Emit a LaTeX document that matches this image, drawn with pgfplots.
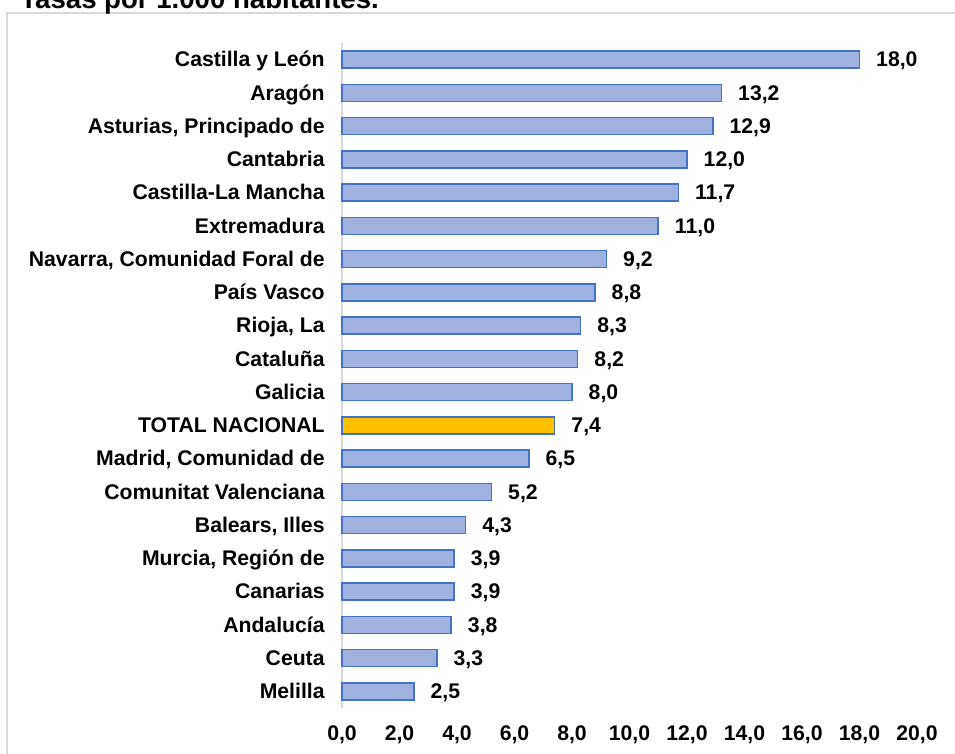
\documentclass[border=0pt]{standalone}
\usepackage{fontspec}
\setmainfont{Liberation Sans}
\usepackage{pgfplots}
\pgfplotsset{compat=1.18}
\definecolor{barblue}{HTML}{4472C4}
\definecolor{barfill}{HTML}{A0B1DF}
\definecolor{gold}{HTML}{FFC000}
\definecolor{framegray}{HTML}{D9D9D9}
\pgfplotsset{/pgf/number format/.cd, use comma, fixed, fixed zerofill, precision=1, assume math mode=true, 1000 sep={}}
\begin{document}
\begin{tikzpicture}
\useasboundingbox (0,0) rectangle (477.5pt,377pt);
\draw[framegray, line width=1pt] (3.5pt,370.5pt) rectangle (490pt,-10pt);
\node[anchor=base west, inner sep=0pt, font=\bfseries\fontsize{13.8}{16}\selectfont] at (10pt,372.5pt) {Tasas por 1.000 habitantes.};
\begin{axis}[
  at={(171pt,23pt)}, anchor=south west,
  scale only axis, width=287.5pt, height=332.5pt,
  xmin=0, xmax=20, ymin=-0.5, ymax=19.5,
  xbar, bar width=8.5pt,
  xtick={0,2,...,20},
  ytick={0,...,19},
  yticklabels={Melilla, Ceuta, Andalucía, Canarias, {Murcia, Región de}, {Balears, Illes}, Comunitat Valenciana, {Madrid, Comunidad de}, TOTAL NACIONAL, Galicia, Cataluña, {Rioja, La}, País Vasco, {Navarra, Comunidad Foral de}, Extremadura, Castilla-La Mancha, Cantabria, {Asturias, Principado de}, Aragón, Castilla y León},
  axis lines*=left,
  x axis line style={draw=none},
  y axis line style={draw=framegray, line width=1pt, -},
  major tick length=0pt,
  tick label style={font=\bfseries\fontsize{10.6}{12}\selectfont, text=black, text height=0.72em, text depth=0pt},
  yticklabel style={inner sep=0pt, xshift=-8.5pt},
  xticklabel style={inner sep=0pt, yshift=-9pt},
  nodes near coords,
  nodes near coords style={font=\bfseries\fontsize{10.6}{12}\selectfont, anchor=west, inner sep=0pt, xshift=8pt, text=black, text height=0.72em, text depth=0pt},
  clip=false,
]
\addplot[draw=barblue, line width=0.75pt, fill=barfill, bar shift=0pt] coordinates {
(2.5,0) (3.3,1) (3.8,2) (3.9,3) (3.9,4) (4.3,5) (5.2,6) (6.5,7)
(8.0,9) (8.2,10) (8.3,11) (8.8,12) (9.2,13) (11.0,14) (11.7,15) (12.0,16) (12.9,17) (13.2,18) (18.0,19)};
\addplot[draw=barblue, line width=0.75pt, fill=gold, bar shift=0pt] coordinates {(7.4,8)};
\end{axis}
\end{tikzpicture}
\end{document}
